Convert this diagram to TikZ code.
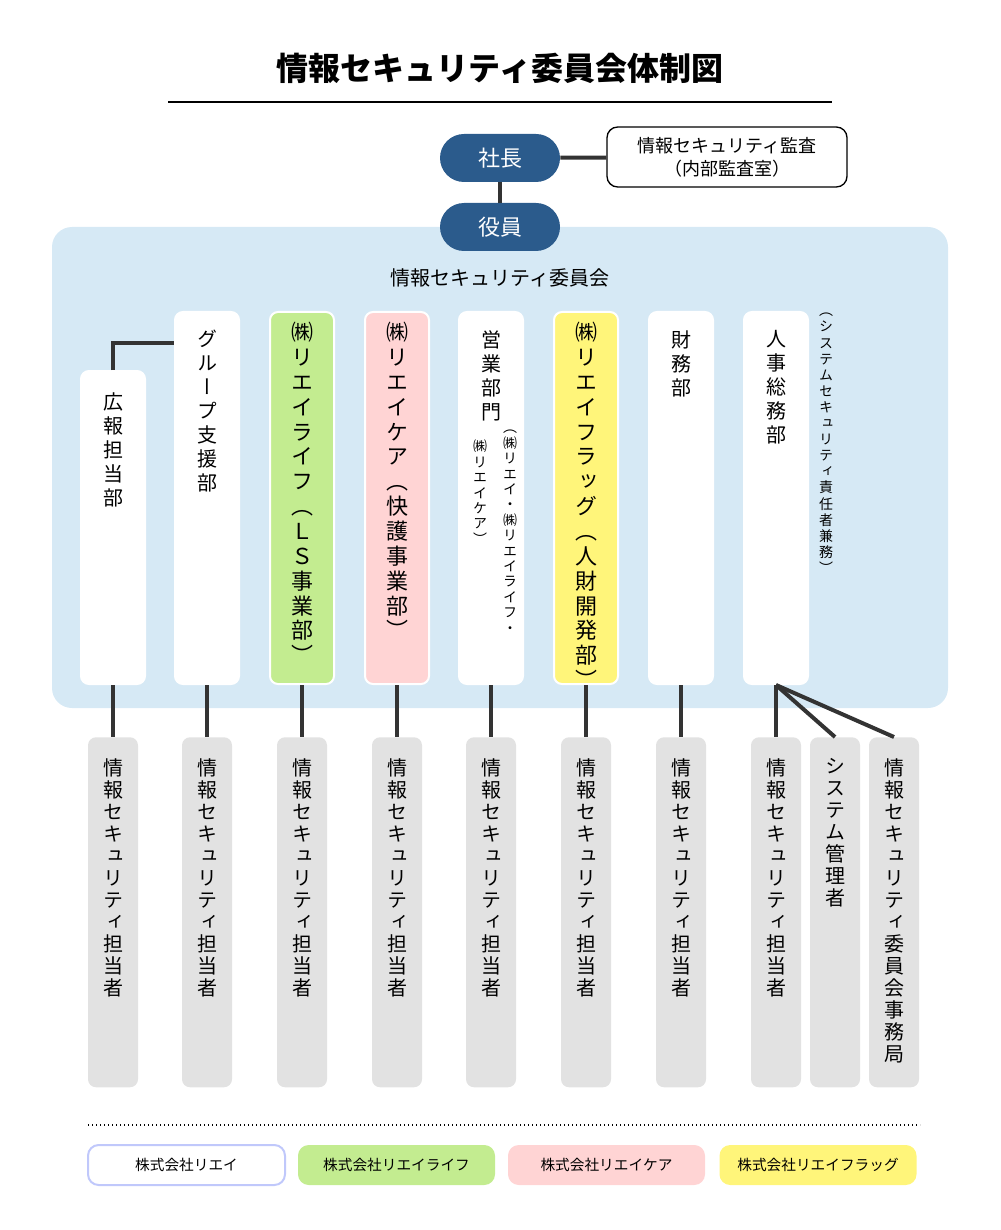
\documentclass[tikz,border=0pt]{standalone}
\usepackage{fontspec}
\setmainfont{Noto Sans CJK JP}
\newfontfamily\vjp[RawFeature=+vert]{Noto Sans CJK JP}
\usetikzlibrary{positioning}
\definecolor{navy}{HTML}{2B5B8C}
\definecolor{panel}{HTML}{D6E9F5}
\definecolor{greybox}{HTML}{E2E2E2}
\definecolor{lsgreen}{HTML}{C3EC90}
\definecolor{carepink}{HTML}{FFD4D4}
\definecolor{flagyellow}{HTML}{FFF57A}
\definecolor{wire}{HTML}{333333}
\ExplSyntaxOn
\NewDocumentCommand\vtext{O{1.15}m}{\vbox{\baselineskip=#1em\lineskiplimit=-20pt\tl_map_inline:nn{#2}{\hbox to 1em{\hss##1\hss}}}}
\ExplSyntaxOff
\tikzset{
  pill/.style={fill=navy,text=white,rounded corners=18pt,minimum width=90pt,minimum height=36pt,font=\fontsize{16.5}{18}\selectfont},
  wbox/.style={fill=white,draw=white,line width=1.5pt,rounded corners=6pt,minimum width=48pt,minimum height=279pt,anchor=north,inner sep=0pt},
  gbox/.style={fill=greybox,rounded corners=6pt,minimum width=37.5pt,minimum height=262.5pt,anchor=north,inner sep=0pt},
  vlabel/.style={anchor=north,inner sep=0pt,font=\vjp\fontsize{15}{18}\selectfont},
  biglabel/.style={anchor=north,inner sep=0pt,font=\vjp\fontsize{16.5}{18}\selectfont},
  legend/.style={rounded corners=8pt,minimum width=147.75pt,minimum height=30pt,font=\fontsize{11}{13}\selectfont},
  wire/.style={draw=wire,line width=3pt},
}
\begin{document}
\begin{tikzpicture}[x=0.75pt,y=-0.75pt]
\useasboundingbox (0,0) rectangle (1000,1230);
% title
\node[font=\bfseries\fontsize{24}{28}\selectfont] (title) at (500,68) {情報セキュリティ委員会体制図};
\draw[line width=1pt] (168,102) -- (832,102);
% top
\node[pill] (boss) at (500,158) {社長};
\node[draw,line width=1pt,rounded corners=8pt,minimum width=180pt,minimum height=45pt,align=center,font=\fontsize{13.5}{17}\selectfont] (audit) at (727,157) {情報セキュリティ監査\\（内部監査室）};
\draw[wire] (boss) -- (audit);
\fill[panel,rounded corners=15pt] (52,227) rectangle (948,708);
\node[pill] (exec) at (500,227) {役員};
\draw[wire] (boss) -- (exec);
\node[font=\fontsize{15}{18}\selectfont] (comm) at (500,278) {情報セキュリティ委員会};
% committee members
\node[wbox,minimum height=234.75pt] (pr) at (113,370) {};
\node[wbox] (grp) at (207,311) {};
\node[wbox,fill=lsgreen] (ls) at (302,311) {};
\node[wbox,fill=carepink] (care) at (397,311) {};
\node[wbox] (sales) at (491,311) {};
\node[wbox,fill=flagyellow] (flag) at (586,311) {};
\node[wbox] (fin) at (681,311) {};
\node[wbox] (hr) at (776,311) {};
\draw[wire] (pr.north) |- (grp.west|-0,343);
\node[vlabel] at (113,392) {\vtext[1.2]{広報担当部}};
\node[vlabel] at (207,330) {\vtext[1.2]{グループ支援部}};
\node[biglabel] at (302,322) {\vtext[1.13]{㈱リエイライフ（ＬＳ事業部）}};
\node[biglabel] at (397,322) {\vtext[1.13]{㈱リエイケア（快護事業部）}};
\node[vlabel] at (491,330) {\vtext[1.2]{営業部門}};
\node[vlabel,font=\vjp\fontsize{10.5}{12}\selectfont] at (510,430) {\vtext[1.1]{（㈱リエイ・㈱リエイライフ・}};
\node[vlabel,font=\vjp\fontsize{10.5}{12}\selectfont] at (480,440) {\vtext[1.1]{㈱リエイケア）}};
\node[biglabel] at (586,322) {\vtext[1.13]{㈱リエイフラッグ（人財開発部）}};
\node[vlabel] at (681,330) {\vtext[1.2]{財務部}};
\node[vlabel] at (776,330) {\vtext[1.2]{人事総務部}};
\node[vlabel,font=\vjp\fontsize{10.5}{12}\selectfont] at (826,313) {\vtext[1.15]{（システムセキュリティ責任者兼務）}};
% staff
\foreach \nm/\x/\up in {s1/113/pr,s2/207/grp,s3/302/ls,s4/397/care,s5/491/sales,s6/586/flag,s7/681/fin,s8/776/hr}{
  \node[gbox] (\nm) at (\x,737) {};
  \draw[wire] (\up.south) -- (\nm.north);
  \node[vlabel] at (\x,758) {\vtext[1.1]{情報セキュリティ担当者}};
}
\node[gbox] (sys) at (835,737) {};
\node[gbox] (office) at (894,737) {};
\node[vlabel] at (835,758) {\vtext[1.1]{システム管理者}};
\node[vlabel] at (894,758) {\vtext[1.1]{情報セキュリティ委員会事務局}};
\draw[wire] (hr.south) -- (sys.north);
\draw[wire] (hr.south) -- (office.north);
% legend
\draw[dotted,line width=1pt] (88,1125) -- (920,1125);
\node[legend,draw=panel!70!blue!60,line width=1.5pt,fill=white] (lg1) at (186.5,1165) {株式会社リエイ};
\node[legend,fill=lsgreen] (lg2) at (396.5,1165) {株式会社リエイライフ};
\node[legend,fill=carepink] (lg3) at (606.5,1165) {株式会社リエイケア};
\node[legend,fill=flagyellow] (lg4) at (818,1165) {株式会社リエイフラッグ};
\end{tikzpicture}
\end{document}
